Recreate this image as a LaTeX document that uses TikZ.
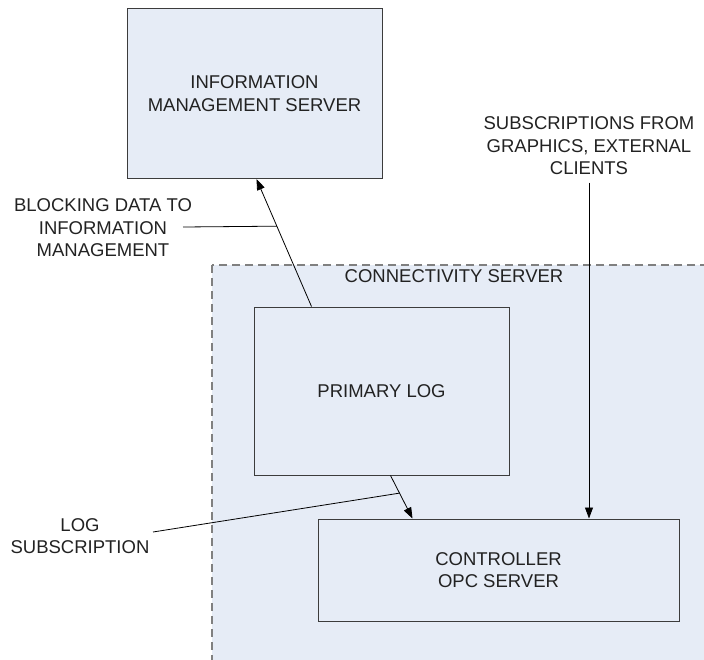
\documentclass[tikz,border=0pt]{standalone}
\usepackage{fontspec}
\setmainfont{Liberation Sans}
\usepackage{tikz}
\usetikzlibrary{arrows.meta,positioning,calc}
\definecolor{paleblue}{RGB}{230,236,246}
\definecolor{edgegray}{RGB}{60,60,60}
\definecolor{dashgray}{RGB}{128,128,128}
\definecolor{inkgray}{RGB}{34,34,34}

\begin{document}
\begin{tikzpicture}[x=1pt, y=-1pt, >={Triangle[length=11pt,width=8pt]}, semithick,
  every node/.style={font=\fontsize{18.5}{22.5}\selectfont, text=inkgray, align=center}]
\tikzstyle{box}=[draw=edgegray, fill=paleblue, line width=1pt, inner sep=0pt]
\tikzstyle{conn}=[draw=dashgray, fill=paleblue, line width=1.5pt, dash pattern=on 8pt off 5pt]
\tikzstyle{link}=[draw=black, line width=0.8pt]
\useasboundingbox (0,0) rectangle (704,659);

% connectivity server area
\draw[conn] (212,265) rectangle (716,672);
\node (connlbl) at (454,276) {CONNECTIVITY SERVER};

% boxes
\node[box, minimum width=255pt, minimum height=170pt] (ims)  at (254.5,93.5) {INFORMATION\\MANAGEMENT SERVER};
\node[box, minimum width=255pt, minimum height=168pt] (plog) at (381.5,391)  {PRIMARY LOG};
\node[box, minimum width=361pt, minimum height=102pt] (ctrl) at (498.5,570)  {CONTROLLER\\OPC SERVER};

% labels
\node (blk)  at (103,228) {BLOCKING DATA TO\\INFORMATION\\MANAGEMENT};
\node (logs) at (80,536)  {LOG\\SUBSCRIPTION};
\node (subs) at (589,146) {SUBSCRIPTIONS FROM\\GRAPHICS, EXTERNAL\\CLIENTS};
\coordinate (blkend) at (183,227);
\coordinate (logend) at (153,532);

% connectors
\draw[link,->] ([xshift=58pt]plog.north west) -- coordinate[pos=0.63] (blkpt) ([xshift=130pt]ims.south west);
\draw[link,->] ([xshift=137pt]plog.south west) -- coordinate[pos=0.41] (logpt) ([xshift=95pt]ctrl.north west);
\draw[link,->] ([yshift=-4pt]subs.south) -- (subs.south |- ctrl.north);
\draw[link] (blkend) -- (blkpt);
\draw[link] (logend) -- (logpt);

\end{tikzpicture}
\end{document}
